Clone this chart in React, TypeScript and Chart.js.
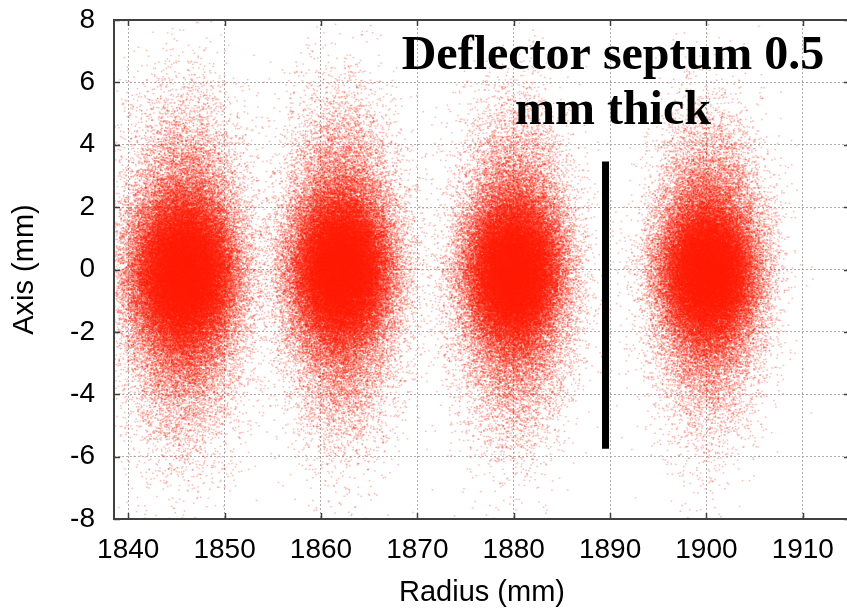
import React, { useEffect, useRef } from "react";
import { Chart, registerables } from "chart.js";

Chart.register(...registerables);

// ---- axes ----
const xTicks = [1840, 1850, 1860, 1870, 1880, 1890, 1900, 1910];
const yTicks = [-8, -6, -4, -2, 0, 2, 4, 6, 8];
const xMin = 1838.52;
const xMax = 1914.9;
const yMin = -8;
const yMax = 8;
const xTitle = "Radius (mm)";
const yTitle = "Axis (mm)";

// ---- particle bunches (one per turn) ----
const bunchCenterX = [1845.8, 1862.1, 1880.0, 1900.2];
const bunchCenterY = [-0.15, 0.0, -0.1, -0.1];
const coreSigmaX = [2.6, 2.5, 2.4, 2.4];
const coreSigmaY = [1.15, 1.1, 1.1, 1.05];
const haloSigmaX = [2.9, 2.8, 2.8, 2.7];
const haloSigmaY = [2.4, 2.35, 2.3, 2.2];
const coreCount = [44000, 42000, 40000, 38000];
const haloCount = [30000, 29000, 27000, 25000];

// ---- deflector septum ----
const septumX = [1889.53, 1889.53];
const septumY = [3.46, -5.75];

// ---- annotation ----
const noteLines = ["Deflector septum 0.5", "mm thick"];
const noteX = 1890.3;
const noteY = 6.43;

// deterministic scrambled sampling sequence (fixed, reproducible)
function seq01(n: number): number {
  let h = n | 0;
  h = Math.imul(h ^ (h >>> 16), 0x7feb352d);
  h = Math.imul(h ^ (h >>> 15), 0x846ca68b);
  h ^= h >>> 16;
  return ((h >>> 0) + 0.5) / 4294967296;
}

function sampleGaussian(
  out: { x: number; y: number }[],
  n: number,
  cx: number,
  cy: number,
  sx: number,
  sy: number,
  offset: number
) {
  for (let i = 0; i < n; i++) {
    const u1 = seq01(offset + 2 * i);
    const u2 = seq01(offset + 2 * i + 1);
    const r = Math.sqrt(-2 * Math.log(u1));
    const t = 2 * Math.PI * u2;
    out.push({ x: cx + sx * r * Math.cos(t), y: cy + sy * r * Math.sin(t) });
  }
}

function buildBunch(k: number) {
  const pts: { x: number; y: number }[] = [];
  sampleGaussian(pts, coreCount[k], bunchCenterX[k], bunchCenterY[k], coreSigmaX[k], coreSigmaY[k], 1000003 * (k + 1));
  sampleGaussian(pts, haloCount[k], bunchCenterX[k], bunchCenterY[k], haloSigmaX[k], haloSigmaY[k], 7000019 * (k + 1));
  return pts;
}

const framePlugin = {
  id: "framePlugin",
  afterDraw(chart: any) {
    const { ctx, chartArea: a, scales } = chart;
    ctx.save();
    ctx.strokeStyle = "#404040";
    ctx.lineWidth = 2;
    ctx.strokeRect(a.left, a.top, a.right - a.left, a.bottom - a.top);
    ctx.lineWidth = 1.5;
    ctx.beginPath();
    xTicks.forEach((v) => {
      const px = Math.round(scales.x.getPixelForValue(v)) + 0.5;
      ctx.moveTo(px, a.bottom);
      ctx.lineTo(px, a.bottom - 6);
      ctx.moveTo(px, a.top);
      ctx.lineTo(px, a.top + 6);
    });
    yTicks.forEach((v) => {
      const py = Math.round(scales.y.getPixelForValue(v)) + 0.5;
      ctx.moveTo(a.left, py);
      ctx.lineTo(a.left + 6, py);
      ctx.moveTo(a.right, py);
      ctx.lineTo(a.right - 6, py);
    });
    ctx.stroke();

    ctx.fillStyle = "#000";
    ctx.font = 'bold 48px "Liberation Serif", "Times New Roman", serif';
    ctx.textAlign = "center";
    ctx.textBaseline = "alphabetic";
    const tx = scales.x.getPixelForValue(noteX);
    const ty = scales.y.getPixelForValue(noteY);
    noteLines.forEach((s, i) => ctx.fillText(s, tx, ty + i * 55.5));
    ctx.restore();
  },
};

export default function App() {
  const ref = useRef<HTMLCanvasElement | null>(null);

  useEffect(() => {
    if (!ref.current) return;
    const datasets: any[] = bunchCenterX.map((_, k) => ({
      label: "turn " + (k + 1),
      data: buildBunch(k),
      pointStyle: "rect",
      pointRadius: 1.05,
      pointBorderWidth: 0,
      pointBackgroundColor: "rgba(255,30,0,0.3)",
      borderColor: "rgba(255,30,0,0.3)",
      showLine: false,
      order: 1,
    }));
    datasets.push({
      label: "septum",
      data: septumX.map((x, i) => ({ x, y: septumY[i] })),
      showLine: true,
      borderColor: "#000",
      borderWidth: 7,
      borderCapStyle: "butt",
      pointRadius: 0,
      order: -1,
    });

    const tickFont = { family: '"Liberation Sans", Arial, sans-serif', size: 28 };
    const titleFont = { family: '"Liberation Sans", Arial, sans-serif', size: 29 };
    const gridColor = "rgba(160,160,160,0.85)";

    const chart = new Chart(ref.current, {
      type: "scatter",
      data: { datasets },
      plugins: [framePlugin],
      options: {
        animation: false,
        responsive: false,
        events: [],
        parsing: false,
        normalized: true,
        layout: { padding: { left: 0, top: 20, right: 20, bottom: 0 } },
        plugins: { legend: { display: false }, tooltip: { enabled: false } },
        scales: {
          x: {
            type: "linear",
            min: xMin,
            max: xMax,
            afterBuildTicks: (s: any) => {
              s.ticks = xTicks.map((v) => ({ value: v }));
            },
            afterFit: (s: any) => {
              s.height = 92;
              s.paddingLeft = 0;
              s.paddingRight = 0;
              s.paddingTop = 0;
              s.paddingBottom = 0;
            },
            ticks: {
              font: tickFont,
              color: "#000",
              padding: 14,
              maxRotation: 0,
              autoSkip: false,
              callback: (v: any) => String(v),
            },
            grid: { color: gridColor, lineWidth: 1, drawTicks: false },
            border: { display: false, dash: [2, 2] },
            title: { display: true, text: xTitle, font: titleFont, color: "#000", padding: { top: 0, bottom: 1 } },
          },
          y: {
            type: "linear",
            min: yMin,
            max: yMax,
            afterBuildTicks: (s: any) => {
              s.ticks = yTicks.map((v) => ({ value: v }));
            },
            afterFit: (s: any) => {
              s.width = 114;
              s.paddingLeft = 0;
              s.paddingRight = 0;
              s.paddingTop = 0;
              s.paddingBottom = 0;
            },
            ticks: {
              font: tickFont,
              color: "#000",
              padding: 19,
              autoSkip: false,
              callback: (v: any) => String(v),
            },
            grid: { color: gridColor, lineWidth: 1, drawTicks: false },
            border: { display: false, dash: [2, 2] },
            title: { display: true, text: yTitle, font: titleFont, color: "#000", padding: { top: 8, bottom: 0 } },
          },
        },
      } as any,
    });
    return () => chart.destroy();
  }, []);

  return (
    <div style={{ position: "fixed", left: 0, top: 0, width: 847, height: 611, overflow: "hidden", background: "#fff" }}>
      <canvas ref={ref} width={870} height={611} style={{ width: 870, height: 611, display: "block" }} />
    </div>
  );
}
